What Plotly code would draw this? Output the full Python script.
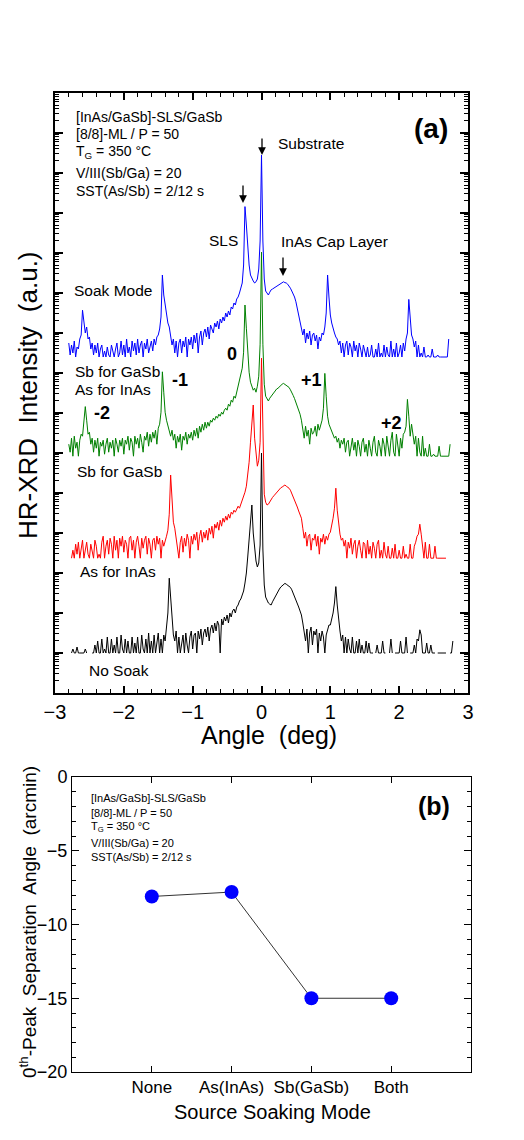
import plotly.graph_objects as go

# ---------------- Panel (a): HR-XRD scans ----------------
# scan grid (deg)
ANGLE_START = -2.80
ANGLE_STEP = 0.02

# log10(counts) above background for each scan
blue_log = [
    0.35, 0.05, 0.3, 0.1, 0.4, 0.0, 0.25, 0.2, 0.45, 0.55,
    1.17, 0.85, 0.6, 0.75, 0.45, 0.5, 0.2, 0.35, 0.05, 0.3,
    0.1, 0.35, 0.0, 0.2, 0.3, 0.0, 0.15, 0.0, 0.25, 0.05,
    0.0, 0.3, 0.1, 0.0, 0.2, 0.35, 0.0, 0.1, 0.4, 0.05,
    0.3, 0.0, 0.45, 0.1, 0.25, 0.0, 0.4, 0.15, 0.35, 0.05,
    0.45, 0.1, 0.3, 0.4, 0.0, 0.35, 0.2, 0.45, 0.1, 0.3,
    0.4, 0.15, 0.45, 0.3, 0.5, 0.55, 0.7, 1.0, 2.05, 1.55,
    1.3, 1.0, 0.85, 0.75, 0.55, 0.3, 0.45, 0.1, 0.4, 0.0,
    0.35, 0.45, 0.1, 0.4, 0.25, 0.5, 0.0, 0.45, 0.3, 0.5,
    0.2, 0.55, 0.35, 0.6, 0.1, 0.5, 0.65, 0.3, 0.6, 0.7,
    0.5, 0.75, 0.45, 0.8, 0.7, 0.6, 0.85, 0.75, 0.9, 0.7,
    0.95, 0.85, 1.0, 0.9, 1.1, 1.0, 1.15, 1.05, 1.25, 1.2,
    1.35, 1.3, 1.45, 1.5, 1.6, 1.7, 1.85, 2.3, 3.76, 3.3,
    2.7, 2.3, 2.05, 1.95, 1.9, 1.85, 1.88, 1.95, 2.2, 2.9,
    5.05, 2.9, 1.95, 1.65, 1.6, 1.55, 1.62, 1.68, 1.7, 1.72,
    1.75, 1.78, 1.8, 1.82, 1.84, 1.86, 1.88, 1.86, 1.85, 1.82,
    1.78, 1.72, 1.65, 1.58, 1.5, 1.38, 1.22, 1.08, 0.93, 0.8,
    0.55, 0.7, 0.35, 0.6, 0.45, 0.65, 0.3, 0.55, 0.6, 0.4,
    0.55, 0.2, 0.5, 0.4, 0.6, 0.55, 0.75, 1.1, 2.05, 1.5,
    1.05, 0.85, 0.7, 0.6, 0.5, 0.45, 0.3, 0.4, 0.1, 0.35,
    0.0, 0.3, 0.4, 0.05, 0.35, 0.25, 0.0, 0.4, 0.15, 0.3,
    0.0, 0.35, 0.2, 0.0, 0.3, 0.1, 0.0, 0.25, 0.0, 0.05,
    0.3, 0.0, 0.0, 0.2, 0.0, 0.35, 0.0, 0.1, 0.0, 0.3,
    0.0, 0.25, 0.05, 0.0, 0.4, 0.0, 0.2, 0.0, 0.35, 0.0,
    0.1, 0.3, 0.0, 0.35, 0.15, 0.45, 0.6, 1.44, 1.0, 0.55,
    0.45, 0.25, 0.4, 0.0, 0.3, 0.0, 0.1, 0.0, 0.25, 0.0,
    0.0, 0.05, 0.0, 0.0, 0.2, 0.0, 0.0, 0.0, 0.05, 0.0,
    0.0, 0.0, 0.0, 0.0, 0.0, 0.0, 0.45, None, None, None,
]

green_log = [
    0.3, 0.1, 0.45, 0.0, 0.5, 0.2, 0.35, 0.0, 0.4, 0.55,
    0.5, 0.8, 1.24, 0.9, 0.55, 0.6, 0.3, 0.45, 0.1, 0.4,
    0.2, 0.45, 0.0, 0.35, 0.25, 0.4, 0.05, 0.3, 0.45, 0.1,
    0.35, 0.2, 0.4, 0.0, 0.45, 0.3, 0.1, 0.4, 0.25, 0.45,
    0.05, 0.4, 0.3, 0.5, 0.15, 0.45, 0.35, 0.0, 0.5, 0.3,
    0.45, 0.2, 0.55, 0.35, 0.1, 0.5, 0.4, 0.6, 0.25, 0.55,
    0.35, 0.6, 0.45, 0.65, 0.3, 0.7, 0.8, 1.1, 2.11, 1.6,
    1.1, 0.9, 0.75, 0.6, 0.5, 0.65, 0.4, 0.55, 0.2, 0.5,
    0.35, 0.55, 0.15, 0.5, 0.4, 0.6, 0.3, 0.55, 0.45, 0.6,
    0.4, 0.65, 0.5, 0.7, 0.45, 0.75, 0.6, 0.8, 0.65, 0.85,
    0.7, 0.85, 0.75, 0.9, 0.85, 0.95, 0.9, 1.0, 0.95, 1.05,
    1.0, 1.1, 1.05, 1.15, 1.2, 1.15, 1.3, 1.25, 1.4, 1.35,
    1.5, 1.45, 1.6, 1.7, 1.85, 2.0, 2.2, 2.6, 3.78, 3.2,
    2.5, 2.1, 1.85, 1.75, 1.65, 1.7, 1.6, 1.75, 2.0, 2.8,
    5.1, 2.8, 1.8, 1.5, 1.42, 1.38, 1.45, 1.5, 1.55, 1.6,
    1.63, 1.68, 1.7, 1.74, 1.76, 1.8, 1.82, 1.8, 1.78, 1.76,
    1.72, 1.66, 1.6, 1.52, 1.44, 1.35, 1.25, 1.15, 1.05, 0.9,
    0.7, 0.45, 0.75, 0.5, 0.65, 0.3, 0.7, 0.55, 0.6, 0.75,
    0.5, 0.8, 0.65, 0.75, 0.9, 1.2, 2.07, 1.5, 1.0, 0.8,
    0.7, 0.6, 0.55, 0.45, 0.5, 0.35, 0.45, 0.2, 0.4, 0.3,
    0.45, 0.1, 0.35, 0.4, 0.0, 0.3, 0.45, 0.15, 0.35, 0.0,
    0.4, 0.25, 0.0, 0.35, 0.45, 0.1, 0.3, 0.0, 0.4, 0.2,
    0.0, 0.35, 0.5, 0.1, 0.0, 0.4, 0.25, 0.0, 0.45, 0.3,
    0.0, 0.5, 0.2, 0.0, 0.4, 0.6, 0.1, 0.0, 0.55, 0.3,
    0.0, 0.45, 0.2, 0.55, 0.6, 0.75, 1.42, 1.0, 0.5, 0.8,
    0.55, 0.3, 0.5, 0.0, 0.45, 0.1, 0.0, 0.5, 0.0, 0.2,
    0.0, 0.0, 0.3, 0.0, 0.0, 0.05, 0.0, 0.0, 0.0, 0.25,
    0.0, 0.0, 0.0, 0.0, 0.0, 0.0, 0.0, 0.3, None, None,
]

red_log = [
    None, None, 0.0, 0.2, 0.0, 0.35, 0.1, 0.4, 0.0, 0.3,
    0.45, 0.0, 0.25, 0.4, 0.1, 0.0, 0.35, 0.2, 0.0, 0.45,
    0.3, 0.0, 0.1, 0.0, 0.4, 0.55, 0.0, 0.3, 0.45, 0.1,
    0.5, 0.35, 0.0, 0.55, 0.2, 0.45, 0.0, 0.5, 0.3, 0.55,
    0.15, 0.45, 0.35, 0.0, 0.5, 0.55, 0.2, 0.45, 0.0, 0.4,
    0.55, 0.3, 0.0, 0.5, 0.25, 0.45, 0.55, 0.1, 0.5, 0.35,
    0.0, 0.45, 0.5, 0.2, 0.55, 0.35, 0.5, 0.0, 0.45, 0.3,
    0.4, 0.55, 0.7, 1.1, 2.08, 1.4, 0.9, 0.75, 0.5, 0.35,
    0.0, 0.4, 0.55, 0.15, 0.5, 0.3, 0.6, 0.45, 0.0, 0.55,
    0.35, 0.6, 0.45, 0.65, 0.2, 0.55, 0.7, 0.4, 0.65, 0.5,
    0.7, 0.45, 0.75, 0.6, 0.8, 0.5, 0.85, 0.75, 0.9, 0.7,
    0.95, 0.8, 1.0, 0.9, 1.05, 0.95, 1.1, 1.0, 1.15, 1.1,
    1.2, 1.15, 1.25, 1.3, 1.25, 1.35, 1.45, 1.5, 1.65, 1.8,
    2.08, 2.4, 2.9, 3.3, 3.83, 3.0, 2.55, 2.3, 2.45, 2.9,
    5.0, 2.7, 1.6, 1.4, 1.33, 1.35, 1.42, 1.48, 1.52, 1.56,
    1.6, 1.65, 1.7, 1.72, 1.76, 1.78, 1.8, 1.83, 1.8, 1.78,
    1.75, 1.7, 1.62, 1.55, 1.45, 1.38, 1.28, 1.18, 1.1, 1.0,
    0.75, 0.5, 0.65, 0.3, 0.55, 0.6, 0.2, 0.5, 0.45, 0.6,
    0.3, 0.55, 0.1, 0.5, 0.4, 0.6, 0.35, 0.55, 0.45, 0.6,
    0.65, 0.8, 1.0, 1.25, 1.75, 1.2, 0.8, 0.6, 0.45, 0.5,
    0.3, 0.45, 0.0, 0.4, 0.25, 0.5, 0.1, 0.35, 0.45, 0.0,
    0.3, 0.45, 0.2, 0.0, 0.4, 0.35, 0.0, 0.45, 0.1, 0.3,
    0.0, 0.4, 0.25, 0.0, 0.35, 0.45, 0.0, 0.2, 0.0, 0.4,
    0.1, 0.0, 0.3, 0.0, 0.0, 0.25, 0.0, 0.35, 0.0, 0.0,
    0.2, 0.0, 0.0, 0.3, 0.0, 0.1, 0.0, 0.0, 0.35, 0.0,
    0.0, 0.3, 0.4, 0.55, 0.6, 0.85, 0.6, 0.3, 0.0, 0.4,
    0.0, 0.0, 0.35, 0.0, 0.0, 0.0, 0.3, 0.0, 0.0, 0.0,
    0.0, 0.0, 0.0, 0.0, 0.0, None, None, None, None, None,
]

black_log = [
    None, None, 0.0, 0.1, 0.0, 0.0, 0.15, 0.0, 0.0, 0.0,
    0.0, 0.0, 0.1, 0.0, None, None, None, 0.0, 0.0, 0.2,
    0.0, 0.3, 0.0, 0.0, 0.35, 0.0, 0.1, 0.0, 0.4, 0.0,
    0.0, 0.35, 0.0, 0.2, 0.0, 0.4, 0.0, 0.0, 0.45, 0.1,
    0.0, 0.35, 0.0, 0.3, 0.0, 0.0, 0.4, 0.0, 0.25, 0.0,
    0.4, 0.0, 0.0, 0.45, 0.1, 0.0, 0.35, 0.0, 0.5, 0.0,
    0.3, 0.0, 0.45, 0.0, 0.2, 0.5, 0.0, 0.35, 0.0, 0.45,
    0.3, 0.6, 1.0, 1.87, 1.3, 0.8, 0.45, 0.3, 0.55, 0.0,
    0.4, 0.0, 0.3, 0.45, 0.0, 0.5, 0.2, 0.0, 0.4, 0.55,
    0.1, 0.45, 0.5, 0.0, 0.55, 0.35, 0.6, 0.2, 0.5, 0.6,
    0.4, 0.65, 0.3, 0.6, 0.7, 0.5, 0.75, 0.55, 0.8, 0.7,
    0.0, 0.85, 0.7, 0.9, 0.8, 0.95, 0.75, 1.0, 0.9, 1.05,
    1.1, 1.0, 1.15, 1.2, 1.3, 1.35, 1.45, 1.55, 1.75, 2.0,
    2.4, 2.9, 3.3, 3.7, 3.0, 2.55, 2.3, 2.15, 2.25, 2.7,
    5.0, 2.6, 1.7, 1.4, 1.3, 1.25, 1.22, 1.2, 1.28, 1.35,
    1.42, 1.48, 1.54, 1.6, 1.65, 1.68, 1.72, 1.74, 1.72, 1.7,
    1.68, 1.64, 1.58, 1.5, 1.42, 1.35, 1.25, 1.15, 1.05, 0.95,
    0.75, 0.55, 0.3, 0.6, 0.0, 0.5, 0.65, 0.2, 0.55, 0.45,
    0.6, 0.0, 0.5, 0.3, 0.55, 0.4, 0.0, 0.45, 0.55, 0.7,
    0.7, 0.85, 1.0, 1.25, 1.66, 1.2, 0.8, 0.55, 0.3, 0.45,
    0.0, 0.4, 0.0, 0.35, 0.1, 0.0, 0.4, 0.0, 0.0, 0.3,
    0.0, 0.35, 0.0, 0.2, 0.0, 0.0, 0.3, 0.0, 0.25, 0.0,
    0.0, 0.0, None, 0.0, 0.2, 0.0, 0.0, 0.0, 0.3, 0.0,
    0.0, None, None, 0.0, 0.35, 0.0, None, 0.0, 0.0, 0.0,
    0.0, 0.3, 0.0, 0.0, 0.0, 0.4, 0.0, None, 0.0, 0.0,
    0.0, 0.2, 0.0, 0.35, 0.3, 0.58, 0.45, 0.0, 0.0, 0.0,
    0.25, 0.0, 0.0, 0.2, 0.0, 0.0, 0.0, None, 0.0, 0.0,
    0.0, 0.0, 0.0, 0.0, 0.0, None, None, 0.0, 0.0, 0.3,
]

# vertical stacking offsets (decades) for each scan
scan_names = ["Sb for GaSb + As for InAs (blue)", "Sb for GaSb + As for InAs", "Sb for GaSb", "As for InAs / No Soak"]
scan_data = [blue_log, green_log, red_log, black_log]
scan_offsets = [8.4, 5.92, 3.37, 1.0]
scan_colors = ["#0000ff", "#008000", "#ff0000", "#000000"]

# ---------------- Panel (b): 0th-peak separation ----------------
soak_modes = ["None", "As(InAs)", "Sb(GaSb)", "Both"]
peak_sep = [-8.1, -7.8, -15.0, -15.0]

W, H = 524, 1140
FONT = "Liberation Sans, Arial, sans-serif"


def px(x):
    return x / W


def py(y):
    return 1 - y / H


fig = go.Figure()

for name, vals, off, col in zip(scan_names, scan_data, scan_offsets, scan_colors):
    ang = [round(ANGLE_START + ANGLE_STEP * i, 2) for i in range(len(vals))]
    yy = [None if v is None else 10 ** (v + off) for v in vals]
    fig.add_trace(go.Scatter(x=ang, y=yy, mode="lines", name=name,
                             line=dict(color=col, width=1), connectgaps=False,
                             xaxis="x", yaxis="y", showlegend=False))

fig.add_trace(go.Scatter(x=[1, 2, 3, 4], y=peak_sep, mode="lines+markers",
                         line=dict(color="#333333", width=1),
                         marker=dict(color="#0000ff", size=14),
                         xaxis="x2", yaxis="y2", showlegend=False))

fig.update_layout(
    width=W, height=H,
    margin=dict(l=0, r=0, t=0, b=0, autoexpand=False),
    paper_bgcolor="white", plot_bgcolor="white",
    font=dict(family=FONT, color="black"),
    xaxis=dict(domain=[px(55), px(468)], anchor="y", range=[-3, 3], automargin=False,
               tickmode="linear", tick0=-3, dtick=1,
               ticks="inside", ticklen=7, tickwidth=1.5, tickcolor="black",
               minor=dict(ticks="inside", ticklen=4, dtick=0.2, tickcolor="black", tickwidth=1),
               showline=True, linewidth=2, linecolor="black", mirror="allticks",
               showgrid=False, zeroline=False,
               tickfont=dict(size=20, family=FONT), ticklabelstandoff=0),
    yaxis=dict(domain=[py(693), py(93)], anchor="x", type="log", range=[0, 15], automargin=False,
               dtick=1, ticks="inside", ticklen=8, tickwidth=1.5, tickcolor="black",
               minor=dict(ticks="inside", ticklen=4, dtick="D1", tickcolor="black", tickwidth=1),
               showticklabels=False,
               showline=True, linewidth=2, linecolor="black", mirror="allticks",
               showgrid=False, zeroline=False),
    xaxis2=dict(domain=[px(72), px(471)], anchor="y2", range=[0, 5], automargin=False,
                tickmode="array", tickvals=[1, 2, 3, 4], ticktext=soak_modes,
                ticks="inside", ticklen=6, tickcolor="black",
                showline=True, linewidth=1, linecolor="black", mirror="allticks",
                showgrid=False, zeroline=False,
                tickfont=dict(size=17, family=FONT)),
    yaxis2=dict(domain=[py(1072), py(777)], anchor="x2", range=[-20, 0], automargin=False,
                tickmode="linear", tick0=0, dtick=5,
                ticks="inside", ticklen=7, tickcolor="black",
                minor=dict(ticks="inside", ticklen=4, dtick=1, tickcolor="black"),
                showline=True, linewidth=1, linecolor="black", mirror="allticks",
                showgrid=False, zeroline=False,
                tickfont=dict(size=18, family=FONT)),
)

ann = []


def text(x, y, s, size, xanchor="left", bold=False, angle=0):
    if bold:
        s = "<b>" + s + "</b>"
    ann.append(dict(x=px(x), y=py(y), xref="paper", yref="paper", text=s,
                    showarrow=False, xanchor=xanchor, yanchor="middle",
                    textangle=angle, font=dict(size=size, family=FONT, color="black")))


def arrow(x, y_tail, y_tip):
    ann.append(dict(x=px(x), y=py(y_tip), xref="paper", yref="paper",
                    ax=0, ay=y_tail - y_tip, axref="pixel", ayref="pixel",
                    text="", showarrow=True, arrowhead=2, arrowsize=1.2,
                    arrowwidth=1.3, arrowcolor="black"))


# panel (a) texts
info_a = ["[InAs/GaSb]-SLS/GaSb", "[8/8]-ML / P = 50", "T<sub>G</sub> = 350 °C",
          "V/III(Sb/Ga) = 20", "SST(As/Sb) = 2/12 s"]
for t, yy in zip(info_a, [117, 134, 152, 173, 191]):
    text(74, yy, t, 14)
text(431, 128, "(a)", 28, "center", bold=True)
text(276, 144, "Substrate", 15.5)
text(223, 240, "SLS", 15.5, "center")
text(279, 241, "InAs Cap Layer", 15.5)
text(72, 290, "Soak Mode", 15.5)
text(232, 354, "0", 18, "center", bold=True)
text(73, 371, "Sb for GaSb", 15.5)
text(73, 389, "As for InAs", 15.5)
text(180, 380, "-1", 18, "center", bold=True)
text(311, 380, "+1", 18, "center", bold=True)
text(102, 413, "-2", 18, "center", bold=True)
text(391, 423, "+2", 18, "center", bold=True)
text(75, 471, "Sb for GaSb", 15.5)
text(78, 571, "As for InAs", 15.5)
text(87, 670, "No Soak", 15.5)
arrow(262, 137, 155)
arrow(243, 184, 203)
arrow(283, 256, 276)
text(28, 395, "HR-XRD  Intensity  (a.u.)", 26, "center", angle=-90)
text(269, 735, "Angle  (deg)", 25, "center")

# panel (b) texts
info_b = ["[InAs/GaSb]-SLS/GaSb", "[8/8]-ML / P = 50", "T<sub>G</sub> = 350 °C",
          "V/III(Sb/Ga) = 20", "SST(As/Sb) = 2/12 s"]
for t, yy in zip(info_b, [797.5, 812.5, 827, 842.5, 857]):
    text(89, yy, t, 11)
text(434, 806, "(b)", 25, "center", bold=True)
text(28, 922, "0<sup>th</sup>-Peak  Separation  Angle  (arcmin)", 19, "center", angle=-90)
text(272, 1112, "Source Soaking Mode", 20, "center")

fig.update_layout(annotations=ann)
fig.write_html("out.html", config={"displayModeBar": False},
               post_script="document.body.style.margin='0';document.body.style.overflow='hidden';")
